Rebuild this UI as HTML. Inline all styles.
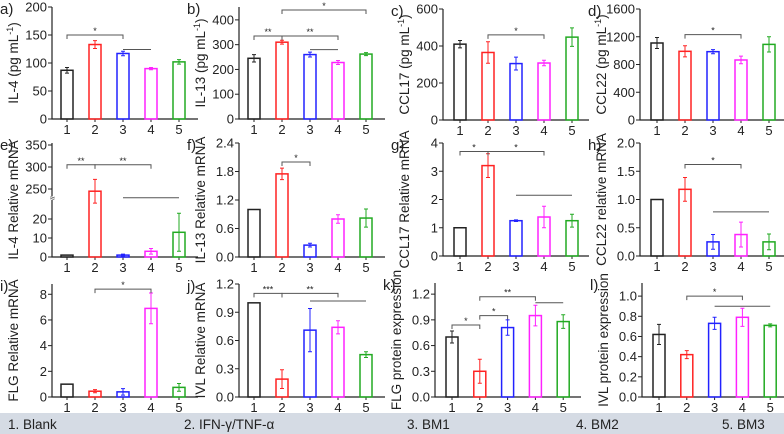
<!DOCTYPE html>
<html><head><meta charset="utf-8">
<style>
body{margin:0;background:#fff;width:784px;height:434px;overflow:hidden;font-family:"Liberation Sans",sans-serif}
svg{display:block}
</style></head>
<body>
<svg id="fig" width="784" height="434" xmlns="http://www.w3.org/2000/svg" font-family="Liberation Sans, DejaVu Sans, sans-serif">
<rect x="0" y="413" width="784" height="21" fill="#d5dbe4"/>
<g font-size="13.5" fill="#222">
<text x="8" y="429">1. Blank</text>
<text x="184" y="429">2. IFN-γ/TNF-α</text>
<text x="407" y="429">3. BM1</text>
<text x="576" y="429">4. BM2</text>
<text x="722" y="429">5. BM3</text>
</g>
</svg>
<script>
const categories=["1","2","3","4","5"];
const colors=["#222","#f22","#22f","#f2f","#2a2"];
const valsA=[87,133,117,90,102], errA=[5,7,4,2,4], ticksA=[0,50,100,150,200];
const valsB=[245,310,260,228,262], errB=[15,8,10,8,6], ticksB=[0,100,200,300,400];
const valsC=[410,365,305,308,448], errC=[20,58,35,15,50], ticksC=[0,200,400,600];
const valsD=[1110,990,985,865,1090], errD=[80,80,30,55,110], ticksD=[0,400,800,1200,1600];
const valsE=[1,245,1,3,13], errE=[0,27,0.5,1.5,10], ticksE=[0,10,20,250,300,350];
const valsF=[1,1.75,0.25,0.8,0.82], errF=[0,0.12,0.04,0.09,0.19], ticksF=[0,0.6,1.2,1.8,2.4];
const valsG=[1,3.2,1.25,1.38,1.25], errG=[0,0.42,0.03,0.38,0.23], ticksG=[0,1,2,3,4];
const valsH=[1,1.18,0.25,0.38,0.25], errH=[0,0.21,0.13,0.22,0.14], ticksH=[0,0.5,1.0,1.5,2.0];
const valsI=[1,0.45,0.4,6.9,0.75], errI=[0,0.12,0.25,1.2,0.3], ticksI=[0,2,4,6,8];
const valsJ=[1,0.19,0.71,0.74,0.45], errJ=[0,0.1,0.23,0.07,0.03], ticksJ=[0,0.3,0.6,0.9,1.2];
const valsK=[0.7,0.3,0.81,0.95,0.88], errK=[0.07,0.14,0.09,0.12,0.08], ticksK=[0,0.3,0.6,0.9,1.2];
const valsL=[0.62,0.42,0.73,0.79,0.71], errL=[0.1,0.04,0.06,0.09,0.015], ticksL=[0,0.2,0.4,0.6,0.8,1.0];

const svg=document.getElementById('fig');
const NS="http://www.w3.org/2000/svg";
function mk(tag,attrs,parent){const e=document.createElementNS(NS,tag);for(const k in attrs)e.setAttribute(k,attrs[k]);parent.appendChild(e);return e;}

const panels=[
 {id:'a',x0:52,y0:119,top:7,vmax:200,vals:valsA,err:errA,ticks:ticksA,label:'IL-4  (pg mL',sup:true,dec:0,br:[[0,2,150,'*'],[2,3,124,'']]},
 {id:'b',x0:239,y0:119,top:7,vmax:452,vals:valsB,err:errB,ticks:ticksB,label:'IL-13 (pg mL',sup:true,dec:0,br:[[1,4,440,'*'],[0,1,335,'**'],[1,3,335,'**'],[2,3,280,'']]},
 {id:'c',x0:443,y0:120,top:9,vmax:600,vals:valsC,err:errC,ticks:ticksC,label:'CCL17 (pg mL',sup:true,dec:0,br:[[1,3,460,'*']]},
 {id:'d',x0:640,y0:120,top:9,vmax:1600,vals:valsD,err:errD,ticks:ticksD,label:'CCL22 (pg mL',sup:true,dec:0,br:[[1,3,1230,'*']]},
 {id:'e',x0:52,y0:257,top:143,vmax:350,vals:valsE,err:errE,ticks:ticksE,label:'IL-4 Relative mRNA',dec:0,brk:true,br:[[0,1,305,'**'],[1,3,305,'**'],[2,4,230,'']]},
 {id:'f',x0:239,y0:257,top:143,vmax:2.4,vals:valsF,err:errF,ticks:ticksF,label:'IL-13 Relative mRNA',dec:1,br:[[1,2,2.0,'*']]},
 {id:'g',x0:443,y0:256,top:143,vmax:4,vals:valsG,err:errG,ticks:ticksG,label:'CCL17 Relative mRNA',dec:0,br:[[0,1,3.7,'*'],[1,3,3.7,'*'],[2,4,2.15,'']]},
 {id:'h',x0:640,y0:256,top:143,vmax:2.0,vals:valsH,err:errH,ticks:ticksH,label:'CCL22 relative mRNA',dec:1,br:[[1,3,1.62,'*'],[2,4,0.78,'']]},
 {id:'i',x0:52,y0:397,top:284,vmax:8.8,vals:valsI,err:errI,ticks:ticksI,label:'FLG Relative mRNA',dec:0,br:[[1,3,8.4,'*']]},
 {id:'j',x0:239,y0:397,top:284,vmax:1.2,vals:valsJ,err:errJ,ticks:ticksJ,label:'IVL Relative mRNA',dec:1,br:[[0,1,1.1,'***'],[1,3,1.1,'**'],[2,4,1.02,'']]},
 {id:'k',x0:435,y0:397,top:283,vmax:1.33,vals:valsK,err:errK,ticks:ticksK,label:'FLG protein expression',dec:1,br:[[0,1,0.84,'*'],[1,2,0.95,'*'],[1,3,1.17,'**'],[3,4,1.1,'']]},
 {id:'l',x0:642,y0:397,top:283,vmax:1.13,vals:valsL,err:errL,ticks:ticksL,label:'IVL protein expression',dec:1,br:[[1,3,1.0,'*'],[2,4,0.9,'']]}
];

panels.forEach(p=>{
 const g=mk('g',{},svg);
 
 
 const off=(p.id==='a'||p.id==='b'||p.id==='e'||p.id==='f'||p.id==='i'||p.id==='j')?15:17;
 const sp=(p.id==='k'||p.id==='l')?27.8:28;
 const xs=i=>p.x0+off+i*sp;
 let ys;
 if(p.brk){
  ys=v=>v<=30?p.y0-v*1.9:Math.max(189-(v-250)*0.44,p.top);
 } else ys=v=>p.y0-v/p.vmax*(p.y0-p.top);
 const lt=mk('text',{x:p.x0-52,y:p.top+7,'font-size':15,fill:'#222'},g);
 lt.textContent=p.id+')';
 
 
 const ax=mk('path',{d:`M${p.x0} ${p.top}V${p.y0}H${p.x0+146}`,stroke:'#222','stroke-width':1.2,fill:'none'},g);
 
 
 p.ticks.forEach(t=>{
  const y=ys(t);
  mk('line',{x1:p.x0-4,x2:p.x0,y1:y,y2:y,stroke:'#222'},g);
  const tx=mk('text',{x:p.x0-5,y:y+4.5,'font-size':13,'text-anchor':'end',fill:'#222'},g);
  tx.textContent=t.toFixed(p.dec);
  
  
 });
 if(p.brk){mk('rect',{x:p.x0-3,y:196,width:6,height:4,fill:'#fff'},g);mk('text',{x:p.x0-2,y:201,'font-size':9,fill:'#222'},g).textContent='≈';}
 categories.forEach((c,i)=>{
  const x=xs(i);
  mk('line',{x1:x,x2:x,y1:p.y0,y2:p.y0+3,stroke:'#222'},g);
  const tx=mk('text',{x:x,y:p.y0+15,'font-size':13,'text-anchor':'middle',fill:'#222'},g);
  tx.textContent=c;
  
  
  const v=p.vals[i],e=p.err[i],y=ys(v);
  const bar=mk('rect',{x:x-6,y:y,width:12,height:p.y0-y,fill:'none',stroke:colors[i],'stroke-width':1.5},g);
  
  
  if(e>0){const y1=ys(v+e),y2=ys(Math.max(v-e,0));
   mk('path',{d:`M${x} ${y1}V${y2}M${x-2} ${y1}H${x+2}M${x-2} ${y2}H${x+2}`,stroke:colors[i],'stroke-width':1},g);}
 });
 p.br.forEach(b=>{
  const x1=xs(b[0]),x2=xs(b[1]),y=ys(b[2]);
  const d=b[3]?`M${x1} ${y+4}V${y}H${x2}V${y+4}`:`M${x1} ${y}H${x2}`;
  const br=mk('path',{d:d,stroke:'#555','stroke-width':1,fill:'none'},g);
  
  
  if(b[3]){const s=mk('text',{x:(x1+x2)/2,y:y-1,'font-size':9,'text-anchor':'middle',fill:'#222'},g);s.textContent=b[3];}
 });
 const yl=mk('text',{transform:`translate(${p.x0-34},${(p.top+p.y0)/2}) rotate(-90)`,'font-size':13.5,'text-anchor':'middle',fill:'#222'},g);
 
 
 yl.appendChild(document.createTextNode(p.label));
 if(p.sup){const s=mk('tspan',{'baseline-shift':'super','font-size':9},yl);s.textContent='-1';yl.appendChild(document.createTextNode(')'));}
});
</script>
</body></html>
